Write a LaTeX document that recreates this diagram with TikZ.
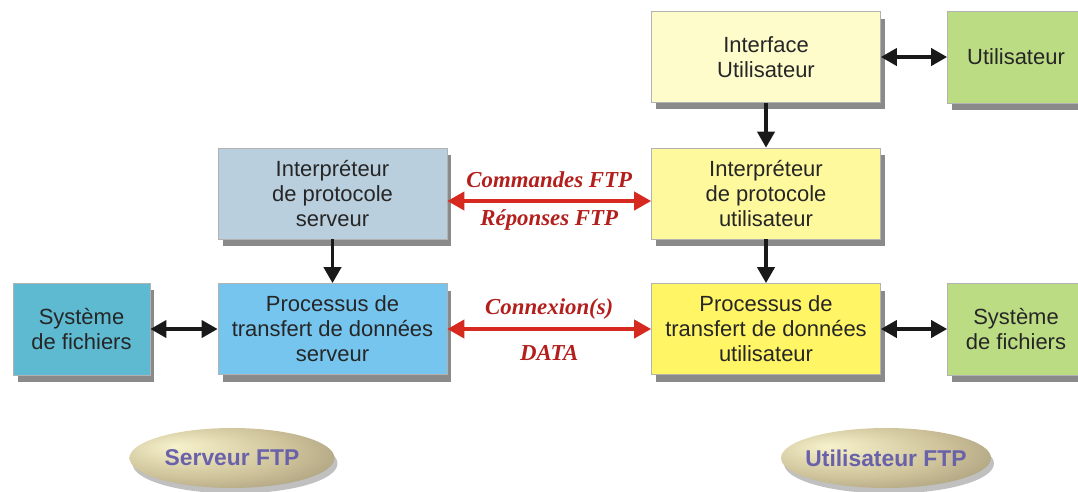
\documentclass[tikz,border=0pt]{standalone}
\usepackage{fontspec}
\setmainfont{Liberation Sans}
\newfontfamily\ftpserif{Liberation Serif}
\usepackage{xcolor}
\usepackage{tikz}
\usetikzlibrary{arrows.meta, shadows, positioning, shapes.geometric}
\usepgflibrary{shadings}
\definecolor{ifaceYellow}{HTML}{FEFCCB}
\definecolor{userGreen}{HTML}{BCDC84}
\definecolor{srvGrey}{HTML}{B9CFDE}
\definecolor{piYellow}{HTML}{FFF99D}
\definecolor{fsTeal}{HTML}{5EBAD1}
\definecolor{dtpBlue}{HTML}{75C5EF}
\definecolor{dtpYellow}{HTML}{FFF565}
\definecolor{ftpRed}{HTML}{D6291F}
\definecolor{ftpLabel}{HTML}{B21F1C}
\definecolor{ovalText}{HTML}{6961A9}
\definecolor{goldLight}{HTML}{F7F2CC}
\definecolor{goldMid}{HTML}{CFC49B}
\definecolor{goldDark}{HTML}{8E8367}
\pgfdeclareradialshading{goldshade}{\pgfpoint{-14bp}{10bp}}{color(0bp)=(goldLight); color(22bp)=(goldMid); color(48bp)=(goldDark); color(60bp)=(goldDark)}

\begin{document}
\begin{tikzpicture}[x=0.02cm, y=-0.02cm,
	box/.style={draw=black!30, line width=0.4pt, text=black!85, align=center, inner sep=0pt,
		font=\fontsize{12.5}{14.2}\selectfont,
		drop shadow={shadow xshift=0.9mm, shadow yshift=-1.4mm, fill=black!65, opacity=0.7}},
	bigbox/.style={box, minimum width=4.58cm, minimum height=1.82cm},
	smallbox/.style={box, minimum width=2.74cm, minimum height=1.84cm},
	blackarrow/.style={line width=2.2pt, black!90, {Triangle[length=3.2mm, width=3.4mm]}-{Triangle[length=3.2mm, width=3.4mm]}},
	downarrow/.style={line width=2.2pt, black!90, -{Triangle[length=3.2mm, width=3.4mm]}},
	redarrow/.style={line width=2.2pt, ftpRed, {Triangle[length=3.4mm, width=3.6mm]}-{Triangle[length=3.4mm, width=3.6mm]}},
	redlabel/.style={text=ftpLabel, inner sep=0pt, font=\ftpserif\bfseries\itshape\fontsize{13}{15}\selectfont},
	oval/.style={ellipse, minimum width=4.1cm, minimum height=1.2cm, inner sep=0pt, inner xsep=-0.3cm, shading=goldshade,
		text=ovalText, font=\bfseries\fontsize{13}{15}\selectfont,
		drop shadow={shadow xshift=0.6mm, shadow yshift=-1.1mm, fill=black!45, opacity=0.55}}]
	\useasboundingbox (0,0) rectangle (1078,491);
	\clip (0,0) rectangle (1078,491);
	\coordinate (IU) at (766,57);
	\coordinate (U) at (1016,57);
	\coordinate (PIS) at (332.5,193.5);
	\coordinate (PIU) at (766,193.5);
	\coordinate (FSS) at (81.5,329);
	\coordinate (DTPS) at (332.5,329);
	\coordinate (DTPU) at (766,329);
	\coordinate (FSU) at (1016,329);

	\node[bigbox, fill=ifaceYellow] (iface) at (IU) {Interface\\Utilisateur};
	\node[smallbox, fill=userGreen] (user) at (U) {Utilisateur};
	\node[bigbox, fill=srvGrey] (pisrv) at (PIS) {Interpréteur\\de protocole\\serveur};
	\node[bigbox, fill=piYellow] (piusr) at (PIU) {Interpréteur\\de protocole\\utilisateur};
	\node[smallbox, fill=fsTeal] (fssrv) at (FSS) {Système\\de fichiers};
	\node[bigbox, fill=dtpBlue] (dtpsrv) at (DTPS) {Processus de\\transfert de données\\serveur};
	\node[bigbox, fill=dtpYellow] (dtpusr) at (DTPU) {Processus de\\transfert de données\\utilisateur};
	\node[smallbox, fill=userGreen] (fsusr) at (FSU) {Système\\de fichiers};

	% liaisons
	\draw[blackarrow] (iface) -- (user);
	\draw[downarrow] (iface) -- (piusr);
	\draw[downarrow] (pisrv) -- (dtpsrv);
	\draw[downarrow] (piusr) -- (dtpusr);
	\draw[blackarrow] (fssrv) -- (dtpsrv);
	\draw[blackarrow] (dtpusr) -- (fsusr);

	\draw[redarrow] ([yshift=-1.5mm]pisrv.east) -- ([yshift=-1.5mm]piusr.west)
		node[redlabel, midway, above=2.2mm] {Commandes FTP}
		node[redlabel, midway, below=1.3mm] {Réponses FTP};
	\draw[redarrow] (dtpsrv) -- (dtpusr)
		node[redlabel, midway, above=1.6mm] {Connexion(s)}
		node[redlabel, midway, below=2.8mm] {DATA};

	\node[oval] (srv) at (232,458) {Serveur FTP};
	\node[oval, minimum width=4.2cm] (usr) at (886,458) {Utilisateur FTP};
\end{tikzpicture}
\end{document}
